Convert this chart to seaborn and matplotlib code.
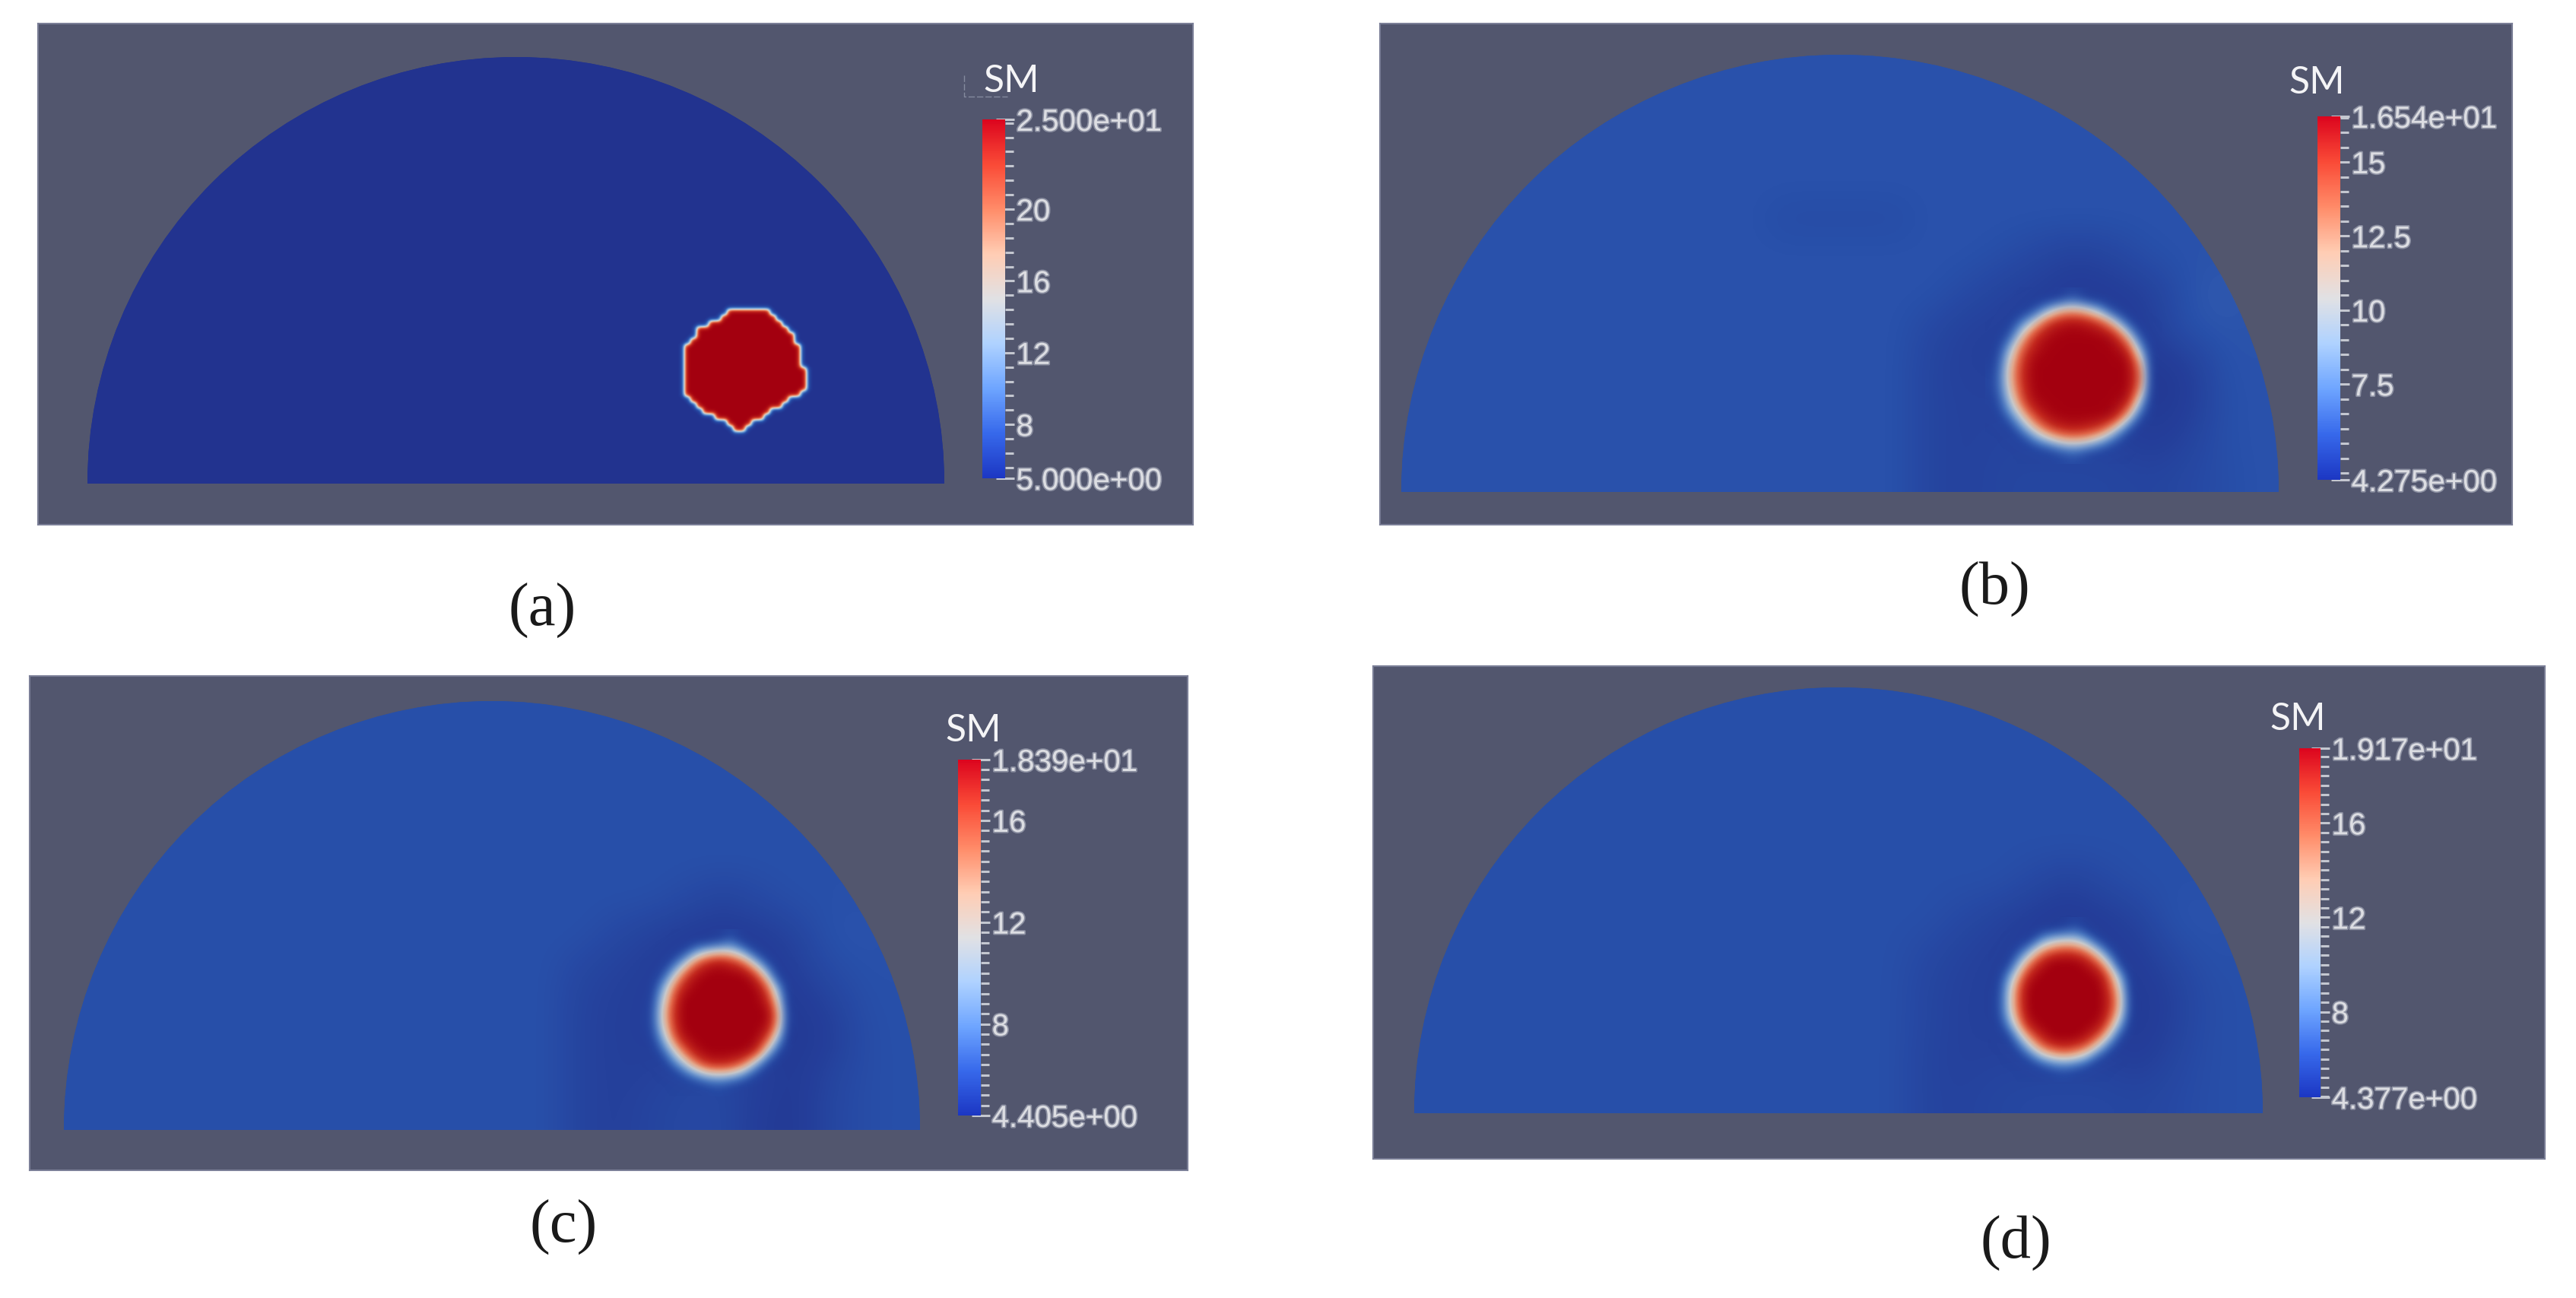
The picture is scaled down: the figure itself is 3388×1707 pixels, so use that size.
'''
SM field at four stages, half dome with a hot blob and a colour bar
'''
import numpy as np
import matplotlib
matplotlib.use("Agg")
import matplotlib.pyplot as plt
import matplotlib.patheffects as pe
from matplotlib.cm import ScalarMappable
from matplotlib.colors import Normalize
from matplotlib.lines import Line2D
from matplotlib.patches import Ellipse
import seaborn as sns

W, H = 3388, 1708

names = ['a', 'b', 'c', 'd']
vmins = [5.0, 4.275, 4.405, 4.377]
vmaxs = [25.0, 16.54, 18.39, 19.17]
major_ticks = [[5.0, 8, 12, 16, 20, 25.0],
               [4.275, 7.5, 10, 12.5, 15, 16.54],
               [4.405, 8, 12, 16, 18.39],
               [4.377, 8, 12, 16, 19.17]]
major_labels = [['5.000e+00', '8', '12', '16', '20', '2.500e+01'],
                ['4.275e+00', '7.5', '10', '12.5', '15', '1.654e+01'],
                ['4.405e+00', '8', '12', '16', '1.839e+01'],
                ['4.377e+00', '8', '12', '16', '1.917e+01']]
minor_steps = [0.8, 0.5, 0.4, 0.4]

# coarse field under the blob, 12 rows x 24 columns
base_a = [[5.0] * 24] * 12
base_b = [[5.9] * 24] * 4 + [
    [5.9] * 10 + [5.6] * 4 + [5.9] * 10,
    [5.9] * 16 + [5.7, 5.3, 5.0, 5.3, 5.8, 5.9, 5.9, 5.9],
    [5.9] * 15 + [5.5, 5.1, 4.9, 4.7, 4.8, 5.0, 5.9, 6.2, 5.9],
    [5.9] * 14 + [5.4, 5.0, 5.0, 4.9, 4.8, 4.7, 4.9, 5.9, 6.0, 5.9],
    [5.9] * 14 + [5.2, 5.0, 5.0, 4.8, 4.8, 4.8, 4.6, 4.8, 5.9, 5.9],
    [5.9] * 14 + [5.2, 5.1, 5.1, 5.0, 5.0, 5.0, 4.6, 4.7, 5.8, 5.9],
    [5.9] * 14 + [5.2, 5.1, 5.2, 5.2, 5.2, 5.1, 4.7, 5.1, 5.8, 5.9],
    [5.9] * 14 + [5.2, 5.1, 5.3, 5.3, 5.3, 5.3, 5.2, 5.4, 5.7, 5.9],
]
base_c = [[6.15] * 24] * 5 + [
    [6.15] * 17 + [5.8, 5.4, 5.8] + [6.15] * 4,
    [6.15] * 15 + [5.7, 5.3, 5.0, 4.9, 5.0, 5.4, 6.3, 6.3, 6.15],
    [6.15] * 14 + [5.6, 5.3, 5.1, 5.0, 4.9, 4.9, 5.1, 5.9, 6.2, 6.15],
    [6.15] * 14 + [5.4, 5.2, 5.1, 5.0, 5.0, 5.0, 4.8, 5.3, 6.1, 6.15],
    [6.15] * 14 + [5.4, 5.2, 5.1, 5.0, 5.0, 5.0, 4.8, 5.0, 6.0, 6.15],
    [6.15] * 14 + [5.4, 5.2, 5.3, 5.6, 5.6, 5.2, 4.8, 5.5, 6.0, 6.15],
    [6.15] * 14 + [5.4, 5.2, 5.5, 5.7, 5.7, 5.0, 4.8, 5.6, 6.0, 6.15],
]
base_d = [[6.2] * 24] * 5 + [
    [6.2] * 17 + [5.8, 5.3, 5.8] + [6.2] * 4,
    [6.2] * 15 + [5.8, 5.4, 5.0, 4.8, 5.0, 5.4, 6.4, 6.4, 6.2],
    [6.2] * 14 + [5.8, 5.4, 5.2, 5.1, 5.0, 5.0, 5.0, 5.8, 6.3, 6.2],
    [6.2] * 14 + [5.6, 5.3, 5.2, 5.1, 5.1, 5.1, 4.8, 5.3, 6.1, 6.2],
    [6.2] * 14 + [5.6, 5.3, 5.2, 5.1, 5.1, 5.1, 4.8, 5.3, 6.1, 6.2],
    [6.2] * 14 + [5.5, 5.3, 5.4, 5.4, 5.4, 5.4, 5.0, 5.6, 6.1, 6.2],
    [6.2] * 14 + [5.5, 5.4, 5.6, 5.7, 5.7, 5.7, 5.6, 5.8, 6.1, 6.2],
]

# blob in (a) is sharp: first and last filled column of each row
blob_a_left = [8, 7, 5, 3, 3, 2, 1, 1, 1, 1, 1, 1, 1, 1, 1, 2, 3, 4, 6, 8, 9]
blob_a_right = [14, 15, 16, 17, 18, 18, 19, 19, 19, 19, 20, 20, 20, 20, 19, 17, 16, 14, 13, 11, 10]

T = 16.5
blob_b = [
    [5, 5, 5, 5, 5, 5.4, 5.8, 5.3, 5, 5, 5, 5, 5],
    [5, 5, 5.2, 5.8, 7.8, 10.5, 11, 10, 7.5, 5.6, 5.1, 5, 5],
    [5, 5.2, 6.4, 10, 14, 15.5, 16, 15.5, 14, 10.5, 6.0, 5, 5],
    [5, 5.8, 10, 14.5, 16, T, T, T, T, 15.5, 11, 5.8, 5],
    [5.2, 7.6, 13, 15.5, T, T, T, T, T, T, 15, 8, 5.1],
    [5.4, 9.5, 14, T, T, T, T, T, T, T, T, 11.5, 5.1],
    [5.6, 10, 14.5, T, T, T, T, T, T, T, T, 13, 5.2],
    [5.6, 9.5, 14, T, T, T, T, T, T, T, T, 12, 5.2],
    [5.4, 8, 13, 16, T, T, T, T, T, T, 15.5, 8.5, 5],
    [5.1, 6.2, 10, 14, 16, T, T, T, T, 16, 11.5, 6, 5],
    [5, 5.2, 6.8, 10.5, 13.5, 15, 15.5, 15, 14, 10.5, 6.2, 5, 5],
    [5, 5, 5.3, 6.2, 8, 10, 10.5, 10, 8, 6, 5.2, 5, 5],
    [5, 5, 5, 5, 5.2, 5.6, 5.9, 5.5, 5.2, 5, 5, 5, 5],
]
U = 18.4
blob_c = [
    [5.2, 5.2, 5.2, 5.2, 5.2, 5.3, 5.5, 6.0, 5.4, 5.2, 5.2, 5.2, 5.2],
    [5.2, 5.2, 5.3, 5.7, 7.2, 9.2, 10, 10, 7.5, 5.7, 5.2, 5.2, 5.2],
    [5.2, 5.3, 6, 9.3, 14, 16.5, 17.5, 16.5, 14.5, 10, 6, 5.2, 5.2],
    [5.2, 5.8, 9.3, 14.5, 17.5, U, U, U, U, 16, 10.5, 5.6, 5.2],
    [5.3, 7.2, 13, 17, U, U, U, U, U, U, 15, 8, 5.2],
    [5.4, 9, 14.5, U, U, U, U, U, U, U, 17, 10.5, 5.3],
    [5.5, 9.8, 15.5, U, U, U, U, U, U, U, U, 12.5, 5.4],
    [5.5, 9.5, 15, U, U, U, U, U, U, U, 18, 12, 5.4],
    [5.4, 7.5, 13.5, 17.5, U, U, U, U, U, U, 15.5, 9, 5.3],
    [5.2, 6, 9.8, 14.5, 17.5, U, U, U, U, 17, 11, 6, 5.2],
    [5.2, 5.3, 6.5, 10, 14, 16.5, 17, 16.5, 14.5, 10, 6, 5.2, 5.2],
    [5.2, 5.2, 5.3, 6, 7.5, 9.5, 10, 9.5, 7.5, 5.8, 5.2, 5.2, 5.2],
    [5.2, 5.2, 5.2, 5.2, 5.3, 5.6, 5.8, 5.5, 5.3, 5.2, 5.2, 5.2, 5.2],
]
V = 19.2
blob_d = [
    [5.2, 5.2, 5.2, 5.2, 5.2, 5.3, 5.5, 5.9, 5.4, 5.2, 5.2, 5.2, 5.2],
    [5.2, 5.2, 5.3, 5.5, 7, 9, 9.5, 9.5, 7.2, 5.6, 5.2, 5.2, 5.2],
    [5.2, 5.3, 5.9, 9, 13, 15, 16, 15.5, 13.5, 9.5, 5.9, 5.2, 5.2],
    [5.2, 5.5, 9, 14, 17.5, V, V, V, 18, 15, 9.5, 5.5, 5.2],
    [5.3, 7, 12.5, 17.5, V, V, V, V, V, 18.5, 14, 7.5, 5.2],
    [5.4, 8.8, 15, V, V, V, V, V, V, V, 16, 10, 5.3],
    [5.5, 9.3, 15.5, V, V, V, V, V, V, V, 17, 11, 5.4],
    [5.5, 9, 15, V, V, V, V, V, V, V, 16.5, 10.5, 5.4],
    [5.4, 7.2, 13, 18, V, V, V, V, V, 18.5, 14, 8, 5.3],
    [5.2, 5.6, 9, 14, 17.5, V, V, V, 18, 15, 10, 5.8, 5.2],
    [5.2, 5.3, 6, 9.5, 13.5, 15.5, 16.5, 15.5, 13.5, 9.5, 6, 5.2, 5.2],
    [5.2, 5.2, 5.3, 5.8, 7.2, 9, 9.5, 9, 7, 5.6, 5.2, 5.2, 5.2],
    [5.2, 5.2, 5.2, 5.2, 5.3, 5.6, 5.8, 5.5, 5.3, 5.2, 5.2, 5.2, 5.2],
]

blob_a = [[5.0] * 22]
for l, r in zip(blob_a_left, blob_a_right):
    blob_a.append([25.0 if l <= c <= r else 5.0 for c in range(22)])
blob_a.append([5.0] * 22)

bases = [base_a, base_b, base_c, base_d]
blobs = [blob_a, blob_b, blob_c, blob_d]

# layout in reference pixels (x0, y0, x1, y1)
panel_boxes = [(50, 32, 1569, 691), (1815, 32, 3304, 691),
               (39, 890, 1562, 1540), (1806, 877, 3347, 1525)]
dome_boxes = [(115, 76, 1242, 637), (1843, 73, 2997, 648),
              (84, 923, 1210, 1487), (1860, 905, 2976, 1465)]
bar_boxes = [(1292, 158, 1322, 630), (3048, 154, 3078, 632),
             (1260, 1000, 1290, 1468), (3024, 985, 3052, 1444)]
blob_boxes = [(892, 400, 1068, 576), (2611, 379, 2843, 611),
              (842, 1223, 1050, 1443), (2614, 1208, 2816, 1424)]
sm_pos = [(1330, 107), (3047, 109), (1280, 961), (3022, 946)]
caption_pos = [(713, 803), (2623, 775), (741, 1614), (2651, 1635)]

panel_bg = '#52566e'
field_colors = ['#22338f', '#2850aa', '#5082c8', '#8cafd7', '#cdcdcd',
                '#e6aa8c', '#e16446', '#c3281e', '#a3000f']
bar_colors = ['#1c37c3', '#3769eb', '#6ea5ff', '#afd2ff', '#e1e1e4',
              '#ffcdb4', '#ff8c69', '#fa4b37', '#dc051e']
field_cmap = sns.blend_palette(field_colors, as_cmap=True)
bar_cmap = sns.blend_palette(bar_colors, as_cmap=True)

sns.set_theme(style="white")
plt.rcParams['font.family'] = ['Liberation Sans', 'DejaVu Sans']

fig = plt.figure(figsize=(W / 100, H / 100), dpi=100, facecolor='white')


def rect(box):
    x0, y0, x1, y1 = box
    return [x0 / W, 1 - y1 / H, (x1 - x0) / W, (y1 - y0) / H]


soft = [pe.withStroke(linewidth=2.5, foreground='#8a8ea0')]

for i, name in enumerate(names):
    norm = Normalize(vmins[i], vmaxs[i])

    back = fig.add_axes(rect(panel_boxes[i]), facecolor=panel_bg)
    back.set_xticks([])
    back.set_yticks([])
    for s in back.spines.values():
        s.set_color('#7a7e96')
        s.set_linewidth(1.5)

    ax = fig.add_axes(rect(dome_boxes[i]))
    base = np.array(bases[i])
    sns.heatmap(base, ax=ax, cmap=field_cmap, vmin=vmins[i], vmax=vmaxs[i],
                cbar=False, xticklabels=False, yticklabels=False)
    nr, nc = base.shape
    dome = Ellipse((nc / 2, nr), nc, 2 * nr, transform=ax.transData)
    ax.collections[0].set_clip_path(dome)

    # heatmap cells smoothed over, the mesh stays underneath
    smooth = ax.imshow(base, extent=(0, nc, nr, 0), aspect='auto', cmap=field_cmap,
                       norm=norm, interpolation='bicubic', zorder=2)
    smooth.set_clip_path(dome)

    # blob patch, placed in the same row/column units as the base grid
    dx0, dy0, dx1, dy1 = dome_boxes[i]
    bx0, by0, bx1, by1 = blob_boxes[i]
    ext = ((bx0 - dx0) / (dx1 - dx0) * nc, (bx1 - dx0) / (dx1 - dx0) * nc,
           (by1 - dy0) / (dy1 - dy0) * nr, (by0 - dy0) / (dy1 - dy0) * nr)
    blob = np.array(blobs[i])
    if name == 'a':
        ax.imshow(blob, extent=ext, aspect='auto', cmap=field_cmap, norm=norm,
                  interpolation='gaussian', zorder=3)
    else:
        alpha = np.clip((blob - 5.3) / 1.0, 0, 1)
        ax.imshow(blob, extent=ext, aspect='auto', cmap=field_cmap, norm=norm,
                  alpha=alpha, interpolation='bicubic', zorder=3)
    ax.set_xlim(0, nc)
    ax.set_ylim(nr, 0)
    ax.axis('off')

    # colour bar
    cax = fig.add_axes(rect(bar_boxes[i]))
    cbar = fig.colorbar(ScalarMappable(norm=norm, cmap=bar_cmap), cax=cax,
                        ticks=major_ticks[i])
    cbar.outline.set_visible(False)
    cbar.ax.set_yticklabels(major_labels[i])
    step = minor_steps[i]
    cbar.ax.set_yticks(np.arange(np.ceil(vmins[i] / step) * step, vmaxs[i], step), minor=True)
    cbar.ax.yaxis.set_ticks_position('right')
    cbar.ax.tick_params(which='major', direction='inout', length=17, width=2.2,
                        color='#c4c7d0', pad=2, labelsize=29, labelcolor='#dcdde2')
    cbar.ax.tick_params(which='minor', direction='out', length=8, width=2.2, color='#c4c7d0')
    for t in cbar.ax.get_yticklabels():
        t.set_path_effects(soft)

    fig.text(sm_pos[i][0] / W, 1 - sm_pos[i][1] / H, 'SM', color='#f4f4f6', fontsize=36,
             family=['Lato', 'DejaVu Sans'], ha='center', va='center')
    fig.text(caption_pos[i][0] / W, 1 - caption_pos[i][1] / H, '(' + name + ')', color='#1a1a1a',
             fontsize=58, family=['Liberation Serif', 'DejaVu Serif'], ha='center', va='center')

# faint leftover corner beside the first SM
fig.add_artist(Line2D([1268 / W, 1268 / W, 1325 / W],
                      [1 - 100 / H, 1 - 128 / H, 1 - 128 / H],
                      color='#858a9e', lw=1, ls=(0, (6, 2))))

plt.savefig("out.png", dpi=100)
